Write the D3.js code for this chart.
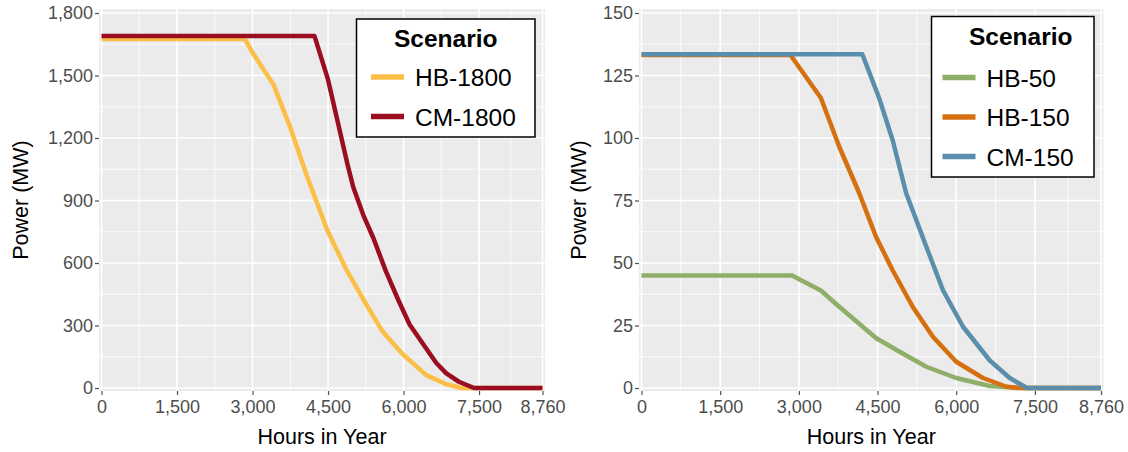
<!DOCTYPE html>
<html>
<head>
<meta charset="utf-8">
<script src="https://cdn.jsdelivr.net/npm/d3@7"></script>
<style>
  body { margin: 0; background: #fff; }
  svg { display: block; font-family: "Liberation Sans", Arial, Helvetica, sans-serif; }
</style>
</head>
<body>
<div id="chart"></div>
<script>
// hours axis, same on both panels
var hourTicks = [0, 1500, 3000, 4500, 6000, 7500, 8760];
var hourMinor = [750, 2250, 3750, 5250, 6750, 8130];

// left panel: 1800 MW scenarios, [hour, MW]
var leftTicks = [0, 300, 600, 900, 1200, 1500, 1800];
var leftMinor = [150, 450, 750, 1050, 1350, 1650];
var hb1800 = [[0,1675],[2850,1675],[3000,1610],[3420,1455],[3750,1250],[4070,1025],[4480,760],
  [4860,570],[5250,405],[5580,272],[5980,163],[6450,62],[6850,18],[7150,0],[8760,0]];
var cm1800 = [[0,1690],[4230,1690],[4500,1480],[4900,1060],[5000,965],[5200,830],[5400,720],
  [5650,560],[5900,420],[6120,305],[6450,190],[6650,120],[6850,70],[7100,30],[7400,0],[8760,0]];

// right panel: 50 / 150 MW scenarios
var rightTicks = [0, 25, 50, 75, 100, 125, 150];
var rightMinor = [12.5, 37.5, 62.5, 87.5, 112.5, 137.5];
var hb50 = [[0,45],[2870,45],[3420,39],[3770,32.5],[4470,20],[4920,14.5],[5430,8.5],[6000,4],
  [6640,0.8],[7280,0],[8760,0]];
var hb150 = [[0,133.2],[2840,133.2],[3420,116],[3770,96.5],[4150,78],[4470,60.5],[4790,47],
  [5170,32.5],[5555,20.5],[6000,10.5],[6510,4],[6960,0.5],[7200,0],[8760,0]];
var cm150 = [[0,133.5],[4210,133.5],[4530,116],[4790,99],[5045,78],[5430,56.5],[5750,39],
  [6130,24.5],[6640,11],[7020,4],[7350,0],[8760,0]];

var fmt = d3.format(",");

var svg = d3.select("#chart").append("svg")
    .attr("width", 1128)
    .attr("height", 452);

function drawPanel(p) {
  var top = 9, bottom = 391;
  var g = svg.append("g");

  var x = d3.scaleLinear().domain([0, 8760]).range([p.left + 2.5, p.right - 2.5]);
  var y = d3.scaleLinear().domain([0, p.yMax]).range([388, 13]);

  // panel background
  g.append("rect")
    .attr("x", p.left).attr("y", top)
    .attr("width", p.right - p.left).attr("height", bottom - top)
    .attr("fill", "#ebebeb");

  // minor grid
  g.selectAll(".mx").data(hourMinor).enter().append("line")
    .attr("x1", d => x(d)).attr("x2", d => x(d))
    .attr("y1", top).attr("y2", bottom)
    .attr("stroke", "#fff").attr("stroke-width", 0.8);
  g.selectAll(".my").data(p.minor).enter().append("line")
    .attr("x1", p.left).attr("x2", p.right)
    .attr("y1", d => y(d)).attr("y2", d => y(d))
    .attr("stroke", "#fff").attr("stroke-width", 0.8);

  // major grid
  g.selectAll(".gx").data(hourTicks).enter().append("line")
    .attr("x1", d => x(d)).attr("x2", d => x(d))
    .attr("y1", top).attr("y2", bottom)
    .attr("stroke", "#fff").attr("stroke-width", 1.6);
  g.selectAll(".gy").data(p.ticks).enter().append("line")
    .attr("x1", p.left).attr("x2", p.right)
    .attr("y1", d => y(d)).attr("y2", d => y(d))
    .attr("stroke", "#fff").attr("stroke-width", 1.6);

  // axes
  var ax = g.append("g")
    .attr("transform", "translate(0," + bottom + ")")
    .call(d3.axisBottom(x).tickValues(hourTicks).tickFormat(fmt).tickSize(4).tickPadding(5));
  var ay = g.append("g")
    .attr("transform", "translate(" + p.left + ",0)")
    .call(d3.axisLeft(y).tickValues(p.ticks).tickFormat(fmt).tickSize(4).tickPadding(2));
  [ax, ay].forEach(function(a) {
    a.select(".domain").remove();
    a.selectAll(".tick line").attr("stroke", "#4d4d4d").attr("stroke-width", 1.2);
    a.selectAll(".tick text")
      .attr("fill", "#4d4d4d")
      .style("font-size", "18px")
      .style("font-family", "'Liberation Sans', Arial, sans-serif");
  });

  // axis titles
  g.append("text")
    .attr("x", (p.left + p.right) / 2).attr("y", 444)
    .attr("text-anchor", "middle")
    .style("font-size", "21.5px")
    .text("Hours in Year");
  g.append("text")
    .attr("transform", "translate(" + (p.left - p.titleGap) + "," + ((top + bottom) / 2) + ") rotate(-90)")
    .attr("text-anchor", "middle")
    .style("font-size", "21.5px")
    .text("Power (MW)");

  // lines
  var line = d3.line().x(d => x(d[0])).y(d => y(d[1]));
  p.series.forEach(function(s) {
    g.append("path")
      .datum(s.values)
      .attr("d", line)
      .attr("fill", "none")
      .attr("stroke", s.color)
      .attr("stroke-width", 4.5)
      .attr("stroke-linejoin", "round");
  });

  // legend
  var L = p.legend;
  var lg = g.append("g").attr("transform", "translate(" + L.x + "," + L.y + ")");
  lg.append("rect")
    .attr("width", L.w).attr("height", L.h)
    .attr("fill", "#fff").attr("stroke", "#000").attr("stroke-width", 1.5);
  lg.append("text")
    .attr("x", L.w / 2 + L.titleShift).attr("y", 28)
    .attr("text-anchor", "middle")
    .style("font-size", "24.5px").style("font-weight", "bold")
    .text("Scenario");
  p.series.forEach(function(s, i) {
    var ky = L.firstKey + i * 39.5;
    lg.append("line")
      .attr("x1", L.keyX).attr("x2", L.keyX + 33)
      .attr("y1", ky).attr("y2", ky)
      .attr("stroke", s.color).attr("stroke-width", 5.5);
    lg.append("text")
      .attr("x", L.keyX + 44).attr("y", ky + 9)
      .style("font-size", "24.5px")
      .text(s.name);
  });
}

drawPanel({
  left: 99, right: 545, yMax: 1800, titleGap: 71,
  ticks: leftTicks, minor: leftMinor,
  series: [
    {name: "HB-1800", color: "#fbbf48", values: hb1800},
    {name: "CM-1800", color: "#9b0e21", values: cm1800}
  ],
  legend: {x: 356.5, y: 19, w: 178.5, h: 118, keyX: 14.5, firstKey: 58, titleShift: 0}
});

drawPanel({
  left: 639, right: 1103.5, yMax: 150, titleGap: 53,
  ticks: rightTicks, minor: rightMinor,
  series: [
    {name: "HB-50", color: "#8fae6a", values: hb50},
    {name: "HB-150", color: "#d4700f", values: hb150},
    {name: "CM-150", color: "#5b8ead", values: cm150}
  ],
  legend: {x: 931.5, y: 16.5, w: 162.5, h: 160.5, keyX: 11, firstKey: 61, titleShift: 8}
});
</script>
</body>
</html>
